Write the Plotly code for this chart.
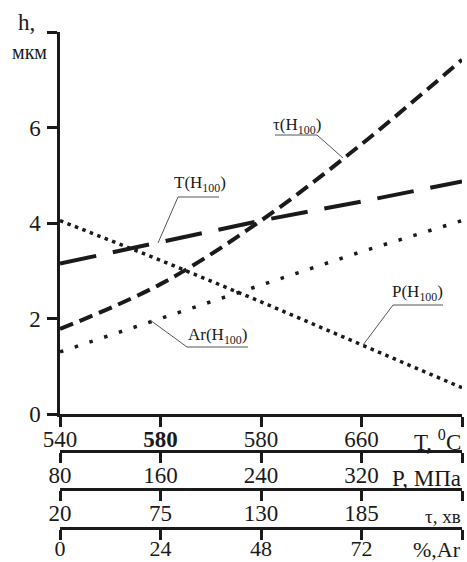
import plotly.graph_objects as go

# ---- data ----
T_vals = [540, 580, 620, 660]
T_labels = ["540", "<b>580</b>", "580", "660"]
T_h = [3.15, 3.6, 4.05, 4.45, 4.87]
T_x = [540, 580, 620, 660, 700]

P_vals = [80, 160, 240, 320]
P_labels = ["80", "160", "240", "320"]
P_h = [4.05, 3.22, 2.35, 1.45, 0.55]
P_x = [80, 160, 240, 320, 400]

tau_vals = [20, 75, 130, 185]
tau_labels = ["20", "75", "130", "185"]
tau_h = [1.78, 2.72, 4.05, 5.65, 7.42]
tau_x = [20, 75, 130, 185, 240]

Ar_vals = [0, 24, 48, 72]
Ar_labels = ["0", "24", "48", "72"]
Ar_h = [1.3, 2.0, 2.7, 3.4, 4.05]
Ar_x = [0, 24, 48, 72, 96]

y_ticks = [0, 2, 4, 6]
y_labels = ["0", "2", "4", "6"]

# ---- layout geometry ----
W, H = 467, 562
ML, MR, MT, MB = 60, 5, 32, 10
PW, PH = W - ML - MR, H - MT - MB


def px(x):
    return (x - ML) / PW


def py(y):
    return 1 - (y - MT) / PH


FONT = "Liberation Serif, Times New Roman, serif"
INK = "#1a1a1a"

fig = go.Figure()
fig.add_trace(go.Scatter(x=T_x, y=T_h, xaxis="x", yaxis="y", mode="lines",
                         line=dict(color=INK, width=4, dash="37px,17px"), name="T(H100)"))
fig.add_trace(go.Scatter(x=tau_x, y=tau_h, xaxis="x3", yaxis="y", mode="lines",
                         line=dict(color=INK, width=4, dash="14px,7px", shape="spline"), name="τ(H100)"))
fig.add_trace(go.Scatter(x=P_x, y=P_h, xaxis="x2", yaxis="y", mode="lines",
                         line=dict(color=INK, width=3.5, dash="3.5px,4.5px"), name="P(H100)"))
fig.add_trace(go.Scatter(x=Ar_x, y=Ar_h, xaxis="x4", yaxis="y", mode="lines",
                         line=dict(color=INK, width=3.5, dash="3.5px,12px"), name="Ar(H100)"))


def axis_common(end_val, standoff, size=23):
    return dict(showline=True, linewidth=2.5, linecolor=INK, ticks="outside", ticklen=10,
                tickwidth=2.5, tickcolor=INK, showgrid=False, zeroline=False, automargin=False,
                ticklabelstandoff=standoff,
                minor=dict(tickvals=[end_val], ticks="outside", ticklen=10, tickwidth=2.5,
                           tickcolor=INK, showgrid=False),
                tickfont=dict(family=FONT, size=size, color=INK))


y0 = py(414)
XS = -7
fig.update_layout(
    width=W, height=H, autosize=False,
    margin=dict(l=ML, r=MR, t=MT, b=MB, pad=0, autoexpand=False),
    paper_bgcolor="white", plot_bgcolor="white",
    showlegend=False,
    xaxis=dict(range=[540, 700], tickvals=T_vals, ticktext=T_labels, anchor="y",
               domain=[0, 1], **axis_common(700, XS)),
    xaxis2=dict(range=[80, 400], tickvals=P_vals, ticktext=P_labels, anchor="free",
                overlaying="x", position=py(451), **axis_common(400, XS)),
    xaxis3=dict(range=[20, 240], tickvals=tau_vals, ticktext=tau_labels, anchor="free",
                overlaying="x", position=py(489), **axis_common(240, XS)),
    xaxis4=dict(range=[0, 96], tickvals=Ar_vals, ticktext=Ar_labels, anchor="free",
                overlaying="x", position=py(528), **axis_common(96, -10, 22)),
    yaxis=dict(range=[0, 8], tickvals=y_ticks, ticktext=y_labels, domain=[y0, 1],
               anchor="x", **axis_common(8, 2)),
)

ann = []


def text(x, y, t, size=23, xanchor="center"):
    ann.append(dict(x=px(x), y=py(y), xref="paper", yref="paper", text=t, showarrow=False,
                    xanchor=xanchor, yanchor="middle",
                    font=dict(family=FONT, size=size, color=INK)))


# axis titles
text(26, 22, "h,", 23)
text(29, 52, "мкм", 20)
text(463, 440, "T, <sup>0</sup>C", 23, "right")
text(463, 478, "P, МПа", 23, "right")
text(463, 516, "τ, хв", 19, "right")
text(463, 549, "%,Ar", 22, "right")

# series labels
text(297, 126, "τ(H<sub>100</sub>)", 17)
text(200, 184, "T(H<sub>100</sub>)", 17)
text(217, 336, "Ar(H<sub>100</sub>)", 17)
text(417, 293, "P(H<sub>100</sub>)", 17)

fig.update_layout(annotations=ann)

leaders = [
    [(275, 135), (317, 135), (343, 158)],
    [(219, 197), (178, 197), (158, 243)],
    [(248, 347), (187, 347), (150, 320)],
    [(443, 305), (393, 305), (363, 345)],
]
shapes = []
for pts in leaders:
    for (xa, ya), (xb, yb) in zip(pts[:-1], pts[1:]):
        shapes.append(dict(type="line", xref="paper", yref="paper",
                           x0=px(xa), y0=py(ya), x1=px(xb), y1=py(yb),
                           line=dict(color="#555555", width=1)))
fig.update_layout(shapes=shapes)

fig.write_html("out.html", config={"displayModeBar": False},
               post_script="document.body.style.margin='0';")
